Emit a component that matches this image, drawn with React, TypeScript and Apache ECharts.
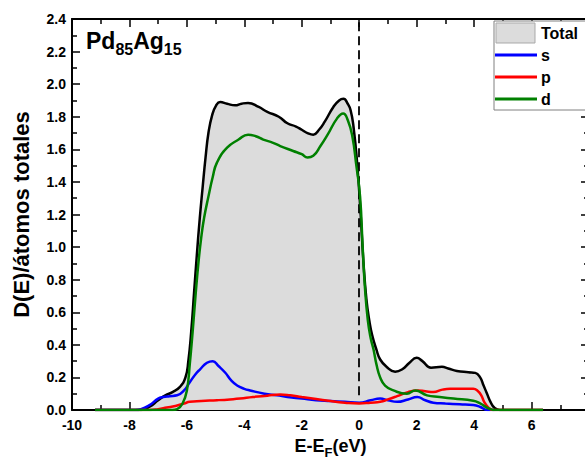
import React, { useEffect, useRef } from "react";
import * as echarts from "echarts";

// Density of states (x = E - E_F in eV, y = D(E)/átomos totales)
const totalDos: [number, number][] = [
  [-9.2, 0], [-7.6, 0], [-7.3, 0.02], [-7.0, 0.06], [-6.75, 0.09], [-6.5, 0.11], [-6.25, 0.14],
  [-6.05, 0.2], [-5.95, 0.3], [-5.85, 0.48], [-5.75, 0.72], [-5.65, 0.96], [-5.55, 1.18],
  [-5.45, 1.37], [-5.35, 1.55], [-5.25, 1.7], [-5.12, 1.81], [-4.98, 1.87], [-4.84, 1.89],
  [-4.6, 1.88], [-4.32, 1.87], [-4.1, 1.88], [-3.87, 1.885], [-3.5, 1.86], [-3.2, 1.83], [-2.8, 1.8],
  [-2.5, 1.76], [-2.2, 1.74], [-2.0, 1.72], [-1.8, 1.7], [-1.6, 1.69], [-1.4, 1.72], [-1.2, 1.77],
  [-0.9, 1.86], [-0.7, 1.9], [-0.55, 1.91], [-0.4, 1.88], [-0.3, 1.84], [-0.2, 1.74], [-0.07, 1.51],
  [0.05, 1.2], [0.15, 0.9], [0.25, 0.68], [0.35, 0.55], [0.45, 0.46], [0.6, 0.37], [0.73, 0.31],
  [0.95, 0.265], [1.25, 0.235], [1.5, 0.25], [1.75, 0.29], [2.0, 0.32], [2.2, 0.3], [2.5, 0.26],
  [2.88, 0.265], [3.1, 0.255], [3.4, 0.24], [3.8, 0.232], [4.04, 0.228], [4.21, 0.2], [4.33, 0.15],
  [4.45, 0.1], [4.57, 0.05], [4.7, 0.015], [4.9, 0], [6.4, 0],
];

const sDos: [number, number][] = [
  [-9.2, 0], [-7.8, 0], [-7.6, 0.005], [-7.3, 0.03], [-7.0, 0.07], [-6.83, 0.08], [-6.6, 0.085],
  [-6.34, 0.09], [-6.1, 0.12], [-5.9, 0.17], [-5.7, 0.22], [-5.54, 0.25], [-5.3, 0.29], [-5.1, 0.3],
  [-4.9, 0.27], [-4.67, 0.23], [-4.45, 0.18], [-4.25, 0.15], [-4.0, 0.13], [-3.8, 0.12], [-3.3, 0.1],
  [-2.86, 0.09], [-2.5, 0.08], [-2.0, 0.07], [-1.5, 0.06], [-1.0, 0.055], [-0.5, 0.05], [0, 0.045],
  [0.4, 0.06], [0.73, 0.07], [1.0, 0.06], [1.32, 0.05], [1.7, 0.065], [2.02, 0.08], [2.3, 0.06],
  [2.58, 0.045], [3.0, 0.04], [3.5, 0.035], [3.97, 0.03], [4.2, 0.02], [4.46, 0.0], [4.7, 0],
];

const pDos: [number, number][] = [
  [-9.2, 0], [-7.3, 0], [-7.0, 0.005], [-6.7, 0.015], [-6.4, 0.025], [-6.1, 0.04], [-5.9, 0.05],
  [-5.5, 0.055], [-4.95, 0.06], [-4.5, 0.065], [-4.15, 0.07], [-3.7, 0.08], [-3.2, 0.088],
  [-2.75, 0.095], [-2.4, 0.09], [-2.0, 0.08], [-1.5, 0.068], [-1.0, 0.055], [-0.5, 0.045], [0, 0.04],
  [0.4, 0.045], [0.73, 0.05], [1.0, 0.065], [1.32, 0.085], [1.7, 0.11], [2.02, 0.12], [2.3, 0.115],
  [2.58, 0.11], [2.9, 0.125], [3.17, 0.13], [3.6, 0.13], [3.97, 0.13], [4.11, 0.12], [4.25, 0.09],
  [4.35, 0.05], [4.5, 0.015], [4.65, 0], [6.4, 0],
];

const dDos: [number, number][] = [
  [-9.2, 0], [-6.5, 0], [-6.34, 0.005], [-6.15, 0.04], [-6.0, 0.12], [-5.9, 0.28], [-5.8, 0.48],
  [-5.7, 0.7], [-5.6, 0.9], [-5.5, 1.06], [-5.4, 1.18], [-5.25, 1.31], [-5.1, 1.43], [-4.95, 1.52],
  [-4.6, 1.61], [-4.2, 1.66], [-3.87, 1.69], [-3.6, 1.68], [-3.34, 1.66], [-3.0, 1.64], [-2.75, 1.62],
  [-2.3, 1.59], [-2.0, 1.57], [-1.8, 1.55], [-1.6, 1.56], [-1.35, 1.62], [-1.1, 1.69], [-0.77, 1.79],
  [-0.56, 1.82], [-0.4, 1.78], [-0.24, 1.68], [-0.1, 1.5], [0.03, 1.31], [0.12, 1.0], [0.2, 0.75],
  [0.3, 0.55], [0.4, 0.44], [0.5, 0.37], [0.6, 0.28], [0.73, 0.2], [0.9, 0.15], [1.19, 0.12],
  [1.66, 0.1], [1.95, 0.12], [2.36, 0.09], [2.8, 0.08], [3.28, 0.07], [3.97, 0.057], [4.21, 0.04],
  [4.5, 0.01], [4.7, 0], [6.4, 0],
];

const seriesNames = ["Total", "s", "p", "d"];
const seriesColors = ["#000000", "#0000ff", "#ff0000", "#008000"];
const xRange = [-10, 8];
const yRange = [0, 2.4];
const fermiLine = [0, 2.38, 0.08];

const FONT = "Liberation Sans";

export default function App() {
  const ref = useRef<HTMLDivElement>(null);

  useEffect(() => {
    const chart = echarts.init(ref.current!, null, { renderer: "svg" });

    const tick = { show: true, inside: true, length: 8, lineStyle: { color: "#000", width: 1.5 } };
    const minor = { show: true, splitNumber: 2, length: 5, lineStyle: { color: "#000", width: 1.5 } };
    const line = { show: true, onZero: false, lineStyle: { color: "#000", width: 2 } };
    const label = { color: "#000", fontFamily: FONT, fontWeight: "bold", fontSize: 14 };

    const datasets = [totalDos, sDos, pDos, dDos];

    const series: any[] = datasets.map((d, i) => ({
      name: seriesNames[i],
      type: "line",
      data: d,
      showSymbol: false,
      symbol: "none",
      smooth: 0.5,
      lineStyle: { color: seriesColors[i], width: 2.5 },
      itemStyle: { color: seriesColors[i] },
      areaStyle: i === 0 ? { color: "#dcdcdc", opacity: 1 } : undefined,
      z: 2 + i,
    }));

    series[0].markLine = {
      silent: true,
      symbol: ["none", "none"],
      label: { show: false },
      lineStyle: { color: "#000", type: [9, 5], width: 1.8 },
      data: [[{ coord: [fermiLine[0], fermiLine[1]] }, { coord: [fermiLine[0], fermiLine[2]] }]],
    };

    const legendY = [33, 55, 77, 99];
    const Z = 100;

    chart.setOption({
      animation: false,
      backgroundColor: "#ffffff",
      grid: { left: 72, top: 19, width: 517, height: 391, containLabel: false, outerBoundsMode: "none" },
      xAxis: [
        {
          type: "value",
          min: xRange[0],
          max: xRange[1],
          interval: 2,
          position: "bottom",
          axisLine: line,
          axisTick: tick,
          minorTick: minor,
          splitLine: { show: false },
          axisLabel: { ...label, margin: 8, showMaxLabel: false },
          name: "{a|E-E}{f|F}{a|(eV)}",
          nameLocation: "middle",
          nameGap: 25,
          nameTextStyle: {
            rich: {
              a: { fontFamily: FONT, fontWeight: "bold", fontSize: 18, color: "#000", lineHeight: 18, verticalAlign: "top" },
              f: { fontFamily: FONT, fontWeight: "bold", fontSize: 13, color: "#000", lineHeight: 10, verticalAlign: "top", padding: [9, 0, 0, 0] },
            },
          },
        },
        {
          type: "value",
          min: xRange[0],
          max: xRange[1],
          interval: 2,
          position: "top",
          axisLine: line,
          axisTick: tick,
          minorTick: minor,
          splitLine: { show: false },
          axisLabel: { show: false },
        },
      ],
      yAxis: [
        {
          type: "value",
          min: yRange[0],
          max: yRange[1],
          interval: 0.2,
          position: "left",
          axisLine: line,
          axisTick: tick,
          minorTick: minor,
          splitLine: { show: false },
          axisLabel: { ...label, margin: 6, formatter: (v: number) => v.toFixed(1) },
          name: "D(E)/átomos totales",
          nameLocation: "middle",
          nameGap: 40,
          nameTextStyle: { fontFamily: FONT, fontWeight: "bold", fontSize: 22, color: "#000" },
        },
        {
          type: "value",
          min: yRange[0],
          max: yRange[1],
          interval: 0.2,
          position: "right",
          axisLine: line,
          axisTick: tick,
          minorTick: minor,
          splitLine: { show: false },
          axisLabel: { show: false },
        },
      ],
      series,
      graphic: [
        {
          type: "text",
          left: 86,
          top: 29,
          z: Z,
          style: {
            text: "{m|Pd}{s|85}{m|Ag}{s|15}",
            rich: {
              m: { fontFamily: FONT, fontWeight: "bold", fontSize: 23, lineHeight: 23, verticalAlign: "top", fill: "#000" },
              s: { fontFamily: FONT, fontWeight: "bold", fontSize: 16, lineHeight: 16, verticalAlign: "top", padding: [12, 0, 0, 0], fill: "#000" },
            },
          },
        },
        { type: "rect", z: Z, shape: { x: 494, y: 21, width: 130, height: 89 }, style: { fill: "#fff", stroke: "#808080", lineWidth: 1 } },
        { type: "rect", z: Z + 1, shape: { x: 496, y: 23, width: 39, height: 20 }, style: { fill: "#dcdcdc", stroke: "#a9a9a9", lineWidth: 1 } },
        ...[1, 2, 3].map((i) => ({
          type: "line",
          z: Z + 1,
          shape: { x1: 495, y1: legendY[i], x2: 537, y2: legendY[i] },
          style: { stroke: seriesColors[i], lineWidth: 3 },
        })),
        ...seriesNames.map((n, i) => ({
          type: "text",
          z: Z + 1,
          x: 541,
          y: legendY[i],
          style: { text: n, fontFamily: FONT, fontWeight: "bold", fontSize: 16, fill: "#000", verticalAlign: "middle", align: "left" },
        })),
      ],
    });

    return () => chart.dispose();
  }, []);

  return <div ref={ref} style={{ position: "absolute", left: 0, top: 0, width: 585, height: 459 }} />;
}
